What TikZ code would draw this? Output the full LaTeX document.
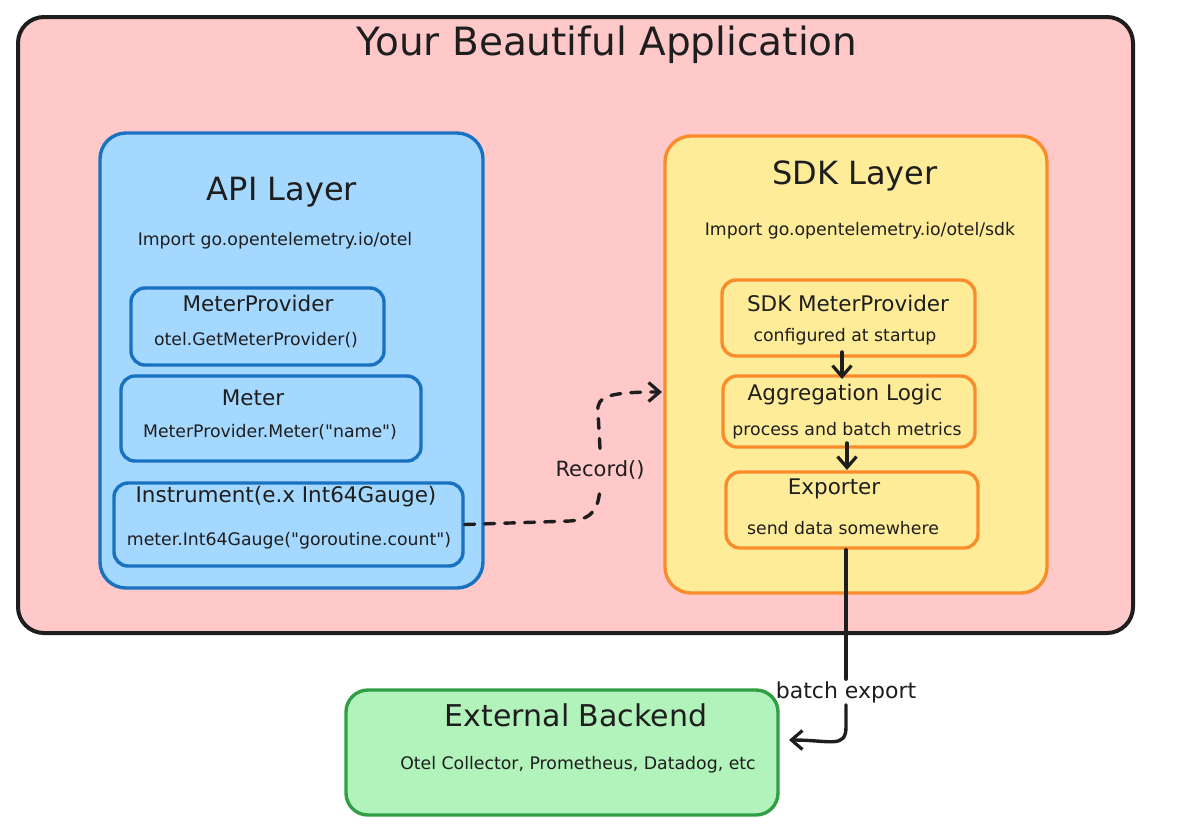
\documentclass[tikz,border=0pt]{standalone}
\usepackage{fontspec}
\setmainfont{DejaVu Sans}
\usetikzlibrary{arrows.meta}

\definecolor{appfill}{HTML}{FFC9C9}
\definecolor{apifill}{HTML}{A5D8FF}
\definecolor{apiline}{HTML}{1971C2}
\definecolor{sdkfill}{HTML}{FFEC99}
\definecolor{sdkline}{HTML}{FA8C2C}
\definecolor{extfill}{HTML}{B2F2BB}
\definecolor{extline}{HTML}{2F9E44}
\definecolor{ink}{HTML}{1E1E1E}

\begin{document}
\begin{tikzpicture}
[
    x=1pt, y=-1pt,
    box/.style={draw, line width=3.4pt, rounded corners=14pt, inner sep=0pt},
    layer/.style={box, rounded corners=26pt},
    apibox/.style={box, draw=apiline, fill=apifill},
    sdkbox/.style={box, draw=sdkline, fill=sdkfill},
    apptext/.style={text=ink, font=\fontsize{39}{44}\selectfont},
    headtext/.style={text=ink, font=\fontsize{32}{36}\selectfont},
    boxtext/.style={text=ink, font=\fontsize{21.5}{25}\selectfont},
    notetext/.style={text=ink, font=\fontsize{17.3}{20}\selectfont},
    lbl/.style={text=ink, font=\fontsize{21}{24}\selectfont, inner sep=2pt},
    link/.style={draw=ink, line width=3.4pt, line cap=round},
    tip/.style={-{Straight Barb[length=11pt, width=19pt, line width=3.2pt]}},
]
\useasboundingbox (0,0) rectangle (1177,839);

% the application
\node [layer, draw=ink, fill=appfill, line width=4pt, minimum width=1115pt, minimum height=616pt] (app) at (575.5,325) {};
\node [apptext] (apptitle) at (607,45) {Your Beautiful Application};

% API layer
\node [layer, draw=apiline, fill=apifill, minimum width=383pt, minimum height=455pt] (api) at (291.5,360.5) {};
\node [headtext] (apititle) at (282,192) {API Layer};
\node [notetext] (apiimport) at (275,241) {Import go.opentelemetry.io/otel};

\node [apibox, minimum width=253pt, minimum height=77pt] (mp) at (257.5,326.5) {};
\node [boxtext] (mpname) at (258,303) {MeterProvider};
\node [notetext] (mpnote) at (256,340) {otel.GetMeterProvider()};

\node [apibox, minimum width=300pt, minimum height=85pt] (meter) at (271,418.5) {};
\node [boxtext] (metername) at (253,398) {Meter};
\node [notetext] (meternote) at (270,432) {MeterProvider.Meter(\textquotedbl name\textquotedbl)};

\node [apibox, minimum width=349pt, minimum height=83pt] (instr) at (288.5,524.5) {};
\node [boxtext] (instrname) at (286,497) {Instrument(e.x Int64Gauge)};
\node [notetext] (instrnote) at (289,541) {meter.Int64Gauge(\textquotedbl goroutine.count\textquotedbl)};

% SDK layer
\node [layer, draw=sdkline, fill=sdkfill, minimum width=382pt, minimum height=457pt] (sdk) at (856,364.5) {};
\node [headtext] (sdktitle) at (855,176) {SDK Layer};
\node [notetext] (sdkimport) at (860,231) {Import go.opentelemetry.io/otel/sdk};

\node [sdkbox, minimum width=253pt, minimum height=76pt] (smp) at (848.5,318) {};
\node [boxtext] (smpname) at (848,303) {SDK MeterProvider};
\node [notetext] (smpnote) at (845,337) {configured at startup};

\node [sdkbox, minimum width=252pt, minimum height=71pt] (agg) at (849,411.5) {};
\node [boxtext] (aggname) at (845,395) {Aggregation Logic};
\node [notetext] (aggnote) at (847,431) {process and batch metrics};

\node [sdkbox, minimum width=252pt, minimum height=76pt] (exp) at (852,510) {};
\node [boxtext] (expname) at (834,489) {Exporter};
\node [notetext] (expnote) at (843,528) {send data somewhere};

% external backend
\node [layer, rounded corners=22pt, draw=extline, fill=extfill, minimum width=432pt, minimum height=125pt] (ext) at (562,752.5) {};
\node [headtext, font=\fontsize{30}{34}\selectfont] (extname) at (576,715) {External Backend};
\node [notetext] (extnote) at (578,765) {Otel Collector, Prometheus, Datadog, etc};

% connectors
\coordinate (smpout) at (842,352);
\coordinate (aggin) at (842,379);
\coordinate (aggout) at (847,443);
\coordinate (expin) at (847,470);
\draw [link, tip] (smpout) -- (aggin);
\draw [link, tip] (aggout) -- (expin);

\node [lbl] (rec) at (600,470) {Record()};
\coordinate (recin) at (662,392);
\draw [link, dash pattern=on 10pt off 10pt] (instr.east) -- (570,521) .. controls (596,519) and (598,505) .. ([yshift=-8pt]rec.south);
\draw [link, dash pattern=on 10pt off 10pt, tip] ([yshift=10pt]rec.north) -- (598,412) .. controls (596,396) and (610,392) .. (recin);

\node [lbl, font=\fontsize{22}{25}\selectfont] (bat) at (846,692) {batch export};
\coordinate (extin) at (789,740);
\draw [link] (exp.south -| bat.north) -- (bat.north);
\draw [link, tip] (bat.south) -- ++(0,22) .. controls +(0,22) and (830,740) .. (extin);
\end{tikzpicture}
\end{document}
